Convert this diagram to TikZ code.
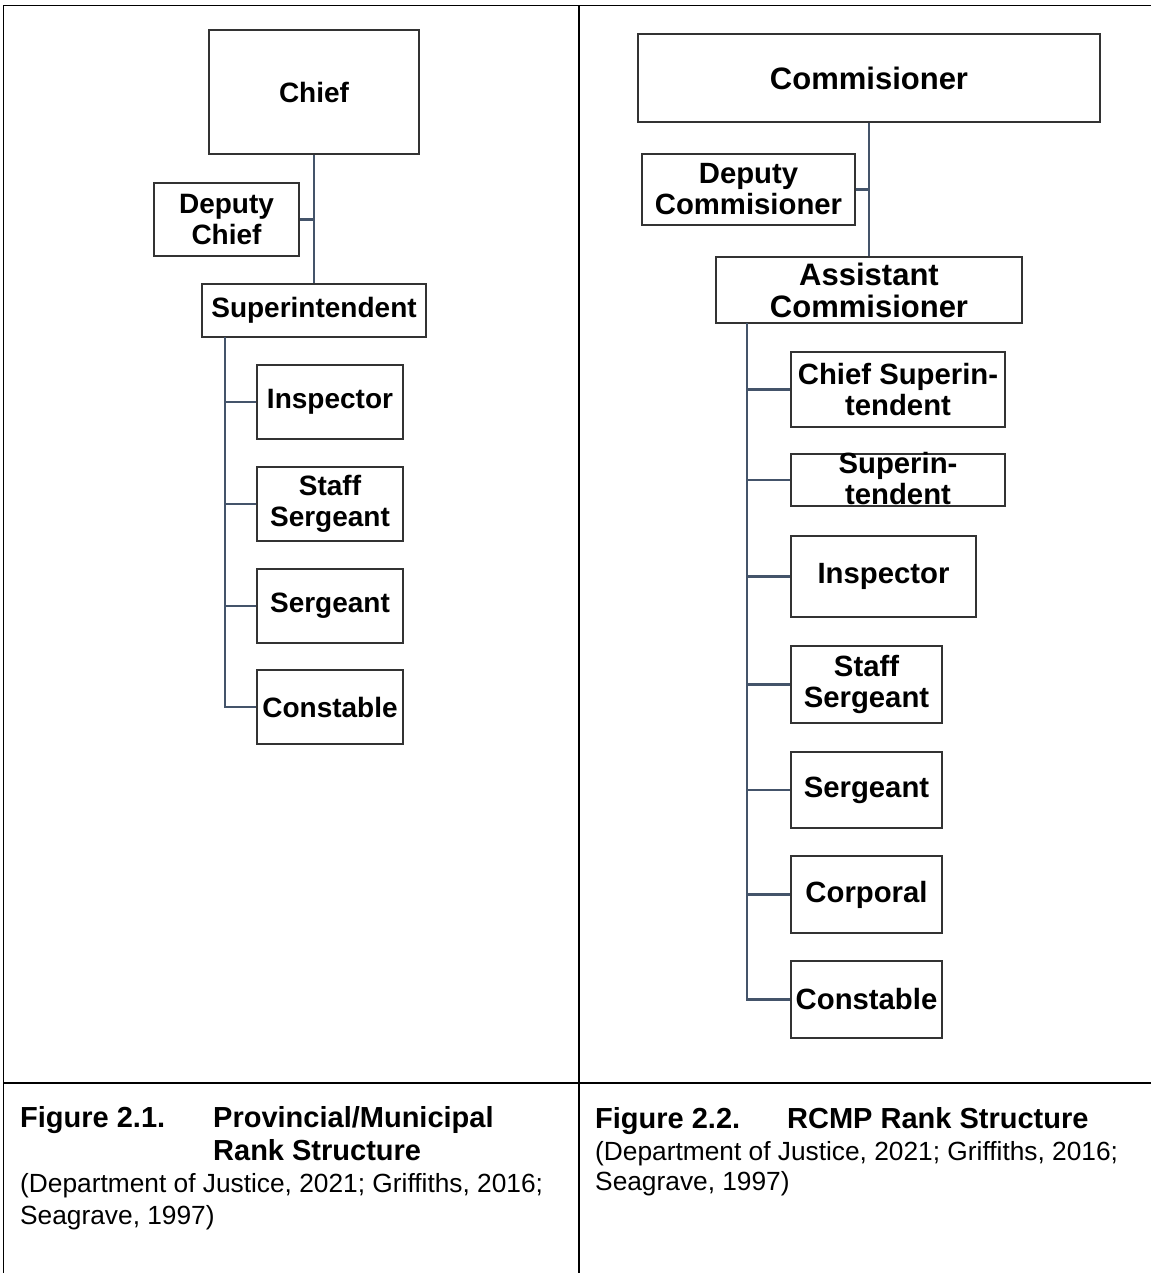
\documentclass[tikz,border=0pt]{standalone}
\usepackage{fontspec}
\setmainfont{Liberation Sans}
\definecolor{linec}{HTML}{44546A}
\definecolor{boxc}{HTML}{333333}
\newcommand\fL{\bfseries\fontsize{28}{31}\selectfont}
\newcommand\fR{\bfseries\fontsize{29.3}{31}\selectfont}
\newcommand\fT{\bfseries\fontsize{31}{32}\selectfont}
\newcommand\fCapB{\bfseries\fontsize{29}{33}\selectfont}
\newcommand\fCapR{\fontsize{26.3}{32}\selectfont}
\begin{document}
\begin{tikzpicture}[x=1pt,y=-1pt,
  box/.style={draw=boxc, line width=1.8pt, rectangle, inner sep=0pt, align=center},
  conn/.style={draw=linec, line width=2.4pt},
  frame/.style={draw=black, line width=1.9pt},
  captext/.style={anchor=base west, inner sep=0pt}]
\useasboundingbox (0,0) rectangle (1151,1273);
\fill[white] (0,0) rectangle (1151,1273);
% table frame
\draw[frame] (3.5,1273) -- (3.5,5.5) -- (1151,5.5);
\draw[frame] (579,5.5) -- (579,1273);
\draw[frame] (3.5,1083) -- (1151,1083);

% ---- left chart ----
\node[box, font=\fL, minimum width=210pt, minimum height=124pt] (chief) at (314,92) {Chief};
\node[box, font=\fL, minimum width=145pt, minimum height=73pt] (depC) at (226.5,219.5) {Deputy\\Chief};
\node[box, font=\fL, minimum width=224pt, minimum height=53pt] (supL) at (314,310.5) {Superintendent};
\node[box, font=\fL, minimum width=146pt, minimum height=74pt] (inspL) at (330,402) {Inspector};
\node[box, font=\fL, minimum width=146pt, minimum height=74pt] (staffL) at (330,504) {Staff\\Sergeant};
\node[box, font=\fL, minimum width=146pt, minimum height=74pt] (sergL) at (330,606) {Sergeant};
\node[box, font=\fL, minimum width=146pt, minimum height=74pt] (consL) at (330,707) {Constable};

\draw[conn] (chief.south) -- (chief.south |- supL.north);
\draw[conn] (depC.east) -- (depC.east -| chief.south);
\coordinate (tL) at (225,337);
\draw[conn] (tL) |- (consL.west);
\draw[conn] (tL |- inspL.west) -- (inspL.west);
\draw[conn] (tL |- staffL.west) -- (staffL.west);
\draw[conn] (tL |- sergL.west) -- (sergL.west);

% ---- right chart ----
\node[box, font=\fT, minimum width=462pt, minimum height=88pt] (comm) at (869,78) {Commisioner};
\node[box, font=\fR, minimum width=213pt, minimum height=71pt] (depR) at (748.5,189.5) {Deputy\\Commisioner};
\node[box, font=\fT, minimum width=306pt, minimum height=66pt] (asst) at (869,290) {Assistant\\Commisioner};
\node[box, font=\fR, minimum width=214pt, minimum height=75pt] (csup) at (898,389.5) {Chief Superin-\\tendent};
\node[box, minimum width=214pt, minimum height=52pt] (supR) at (898,480) {};
\node[font=\fR, align=center, inner sep=0pt] (supRt) at (898,479) {Superin-\\tendent};
\node[box, font=\fR, minimum width=185pt, minimum height=81pt] (inspR) at (883.5,576.5) {Inspector};
\node[box, font=\fR, minimum width=151pt, minimum height=77pt] (staffR) at (866.5,684.5) {Staff\\Sergeant};
\node[box, font=\fR, minimum width=151pt, minimum height=76pt] (sergR) at (866.5,790) {Sergeant};
\node[box, font=\fR, minimum width=151pt, minimum height=77pt] (corpR) at (866.5,894.5) {Corporal};
\node[box, font=\fR, minimum width=151pt, minimum height=77pt] (consR) at (866.5,999.5) {Constable};

\draw[conn] (comm.south) -- (comm.south |- asst.north);
\draw[conn] (depR.east) -- (depR.east -| comm.south);
\coordinate (tR) at (747,323);
\draw[conn] (tR) |- (consR.west);
\draw[conn] (tR |- csup.west) -- (csup.west);
\draw[conn] (tR |- supR.west) -- (supR.west);
\draw[conn] (tR |- inspR.west) -- (inspR.west);
\draw[conn] (tR |- staffR.west) -- (staffR.west);
\draw[conn] (tR |- sergR.west) -- (sergR.west);
\draw[conn] (tR |- corpR.west) -- (corpR.west);

% ---- captions ----
\node[captext, font=\fCapB] (f1) at (20,1127) {Figure 2.1.};
\node[captext, font=\fCapB] (f1t) at (213,1127) {Provincial/Municipal};
\node[captext, font=\fCapB] (f1t2) at (213,1160) {Rank Structure};
\node[captext, font=\fCapR] (f1s) at (20,1192) {(Department of Justice, 2021; Griffiths, 2016;};
\node[captext, font=\fCapR] (f1s2) at (20,1224) {Seagrave, 1997)};

\node[captext, font=\fCapB] (f2) at (595,1128) {Figure 2.2.};
\node[captext, font=\fCapB] (f2t) at (787,1128) {RCMP Rank Structure};
\node[captext, font=\fCapR] (f2s) at (595,1160) {(Department of Justice, 2021; Griffiths, 2016;};
\node[captext, font=\fCapR] (f2s2) at (595,1190) {Seagrave, 1997)};
\end{tikzpicture}
\end{document}
